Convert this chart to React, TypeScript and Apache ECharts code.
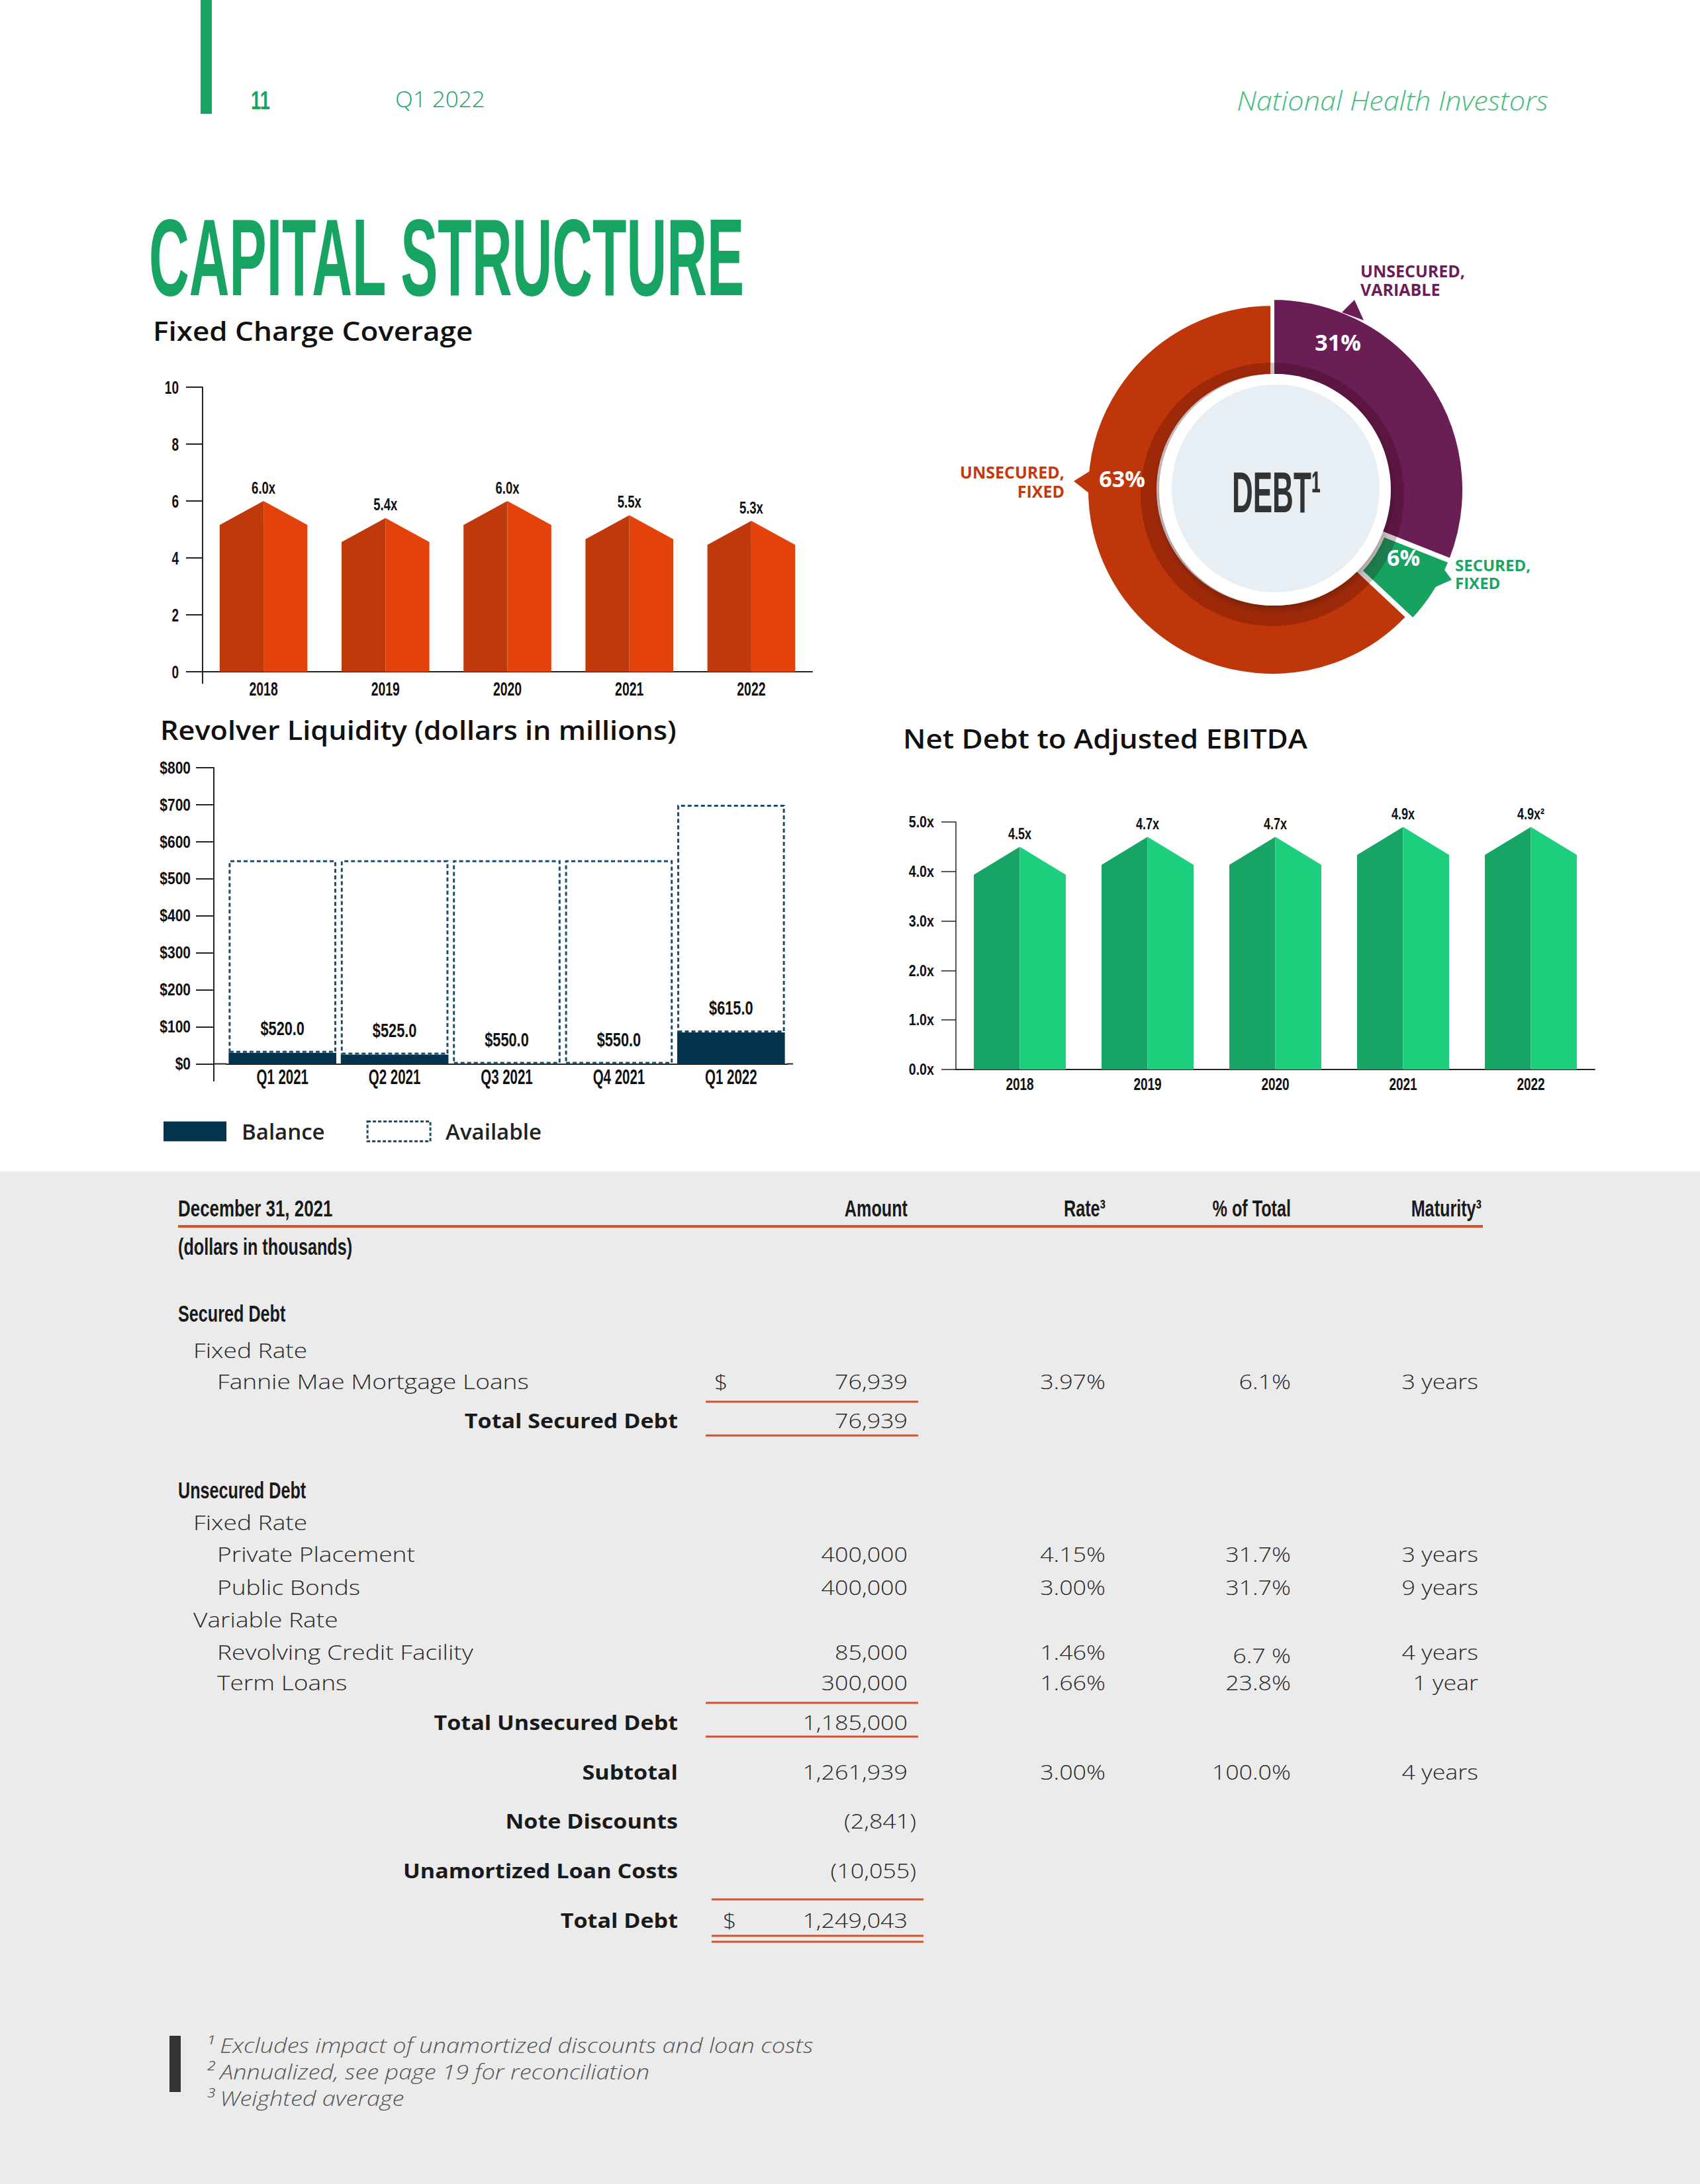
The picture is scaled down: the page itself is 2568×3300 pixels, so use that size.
import React, { useEffect, useRef } from 'react';
import * as echarts from 'echarts';

// ---------- data ----------
const fccYears = ['2018', '2019', '2020', '2021', '2022'];
const fccValues = [6.0, 5.4, 6.0, 5.5, 5.3];
const fccTicks = [0, 2, 4, 6, 8, 10];

const revQuarters = ['Q1 2021', 'Q2 2021', 'Q3 2021', 'Q4 2021', 'Q1 2022'];
const revBalance = [30, 25, 0, 0, 85];
const revAvailable = [520, 525, 550, 550, 615];
const revTicks = [0, 100, 200, 300, 400, 500, 600, 700, 800];

const ebitdaYears = ['2018', '2019', '2020', '2021', '2022'];
const ebitdaValues = [4.5, 4.7, 4.7, 4.9, 4.9];
const ebitdaNotes = ['', '', '', '', '²'];
const ebitdaTicks = [0, 1, 2, 3, 4, 5];

const debtTypes = ['UNSECURED, VARIABLE', 'SECURED, FIXED', 'UNSECURED, FIXED'];
const debtShares = [31, 6, 63];

const debtItems = ['Fannie Mae Mortgage Loans', 'Private Placement', 'Public Bonds', 'Revolving Credit Facility', 'Term Loans'];
const debtAmounts = ['76,939', '400,000', '400,000', '85,000', '300,000'];
const debtRates = ['3.97%', '4.15%', '3.00%', '1.46%', '1.66%'];
const debtPcts = ['6.1%', '31.7%', '31.7%', '6.7 %', '23.8%'];
const debtMaturities = ['3 years', '3 years', '9 years', '4 years', '1 year'];

const summaryLabels = ['Total Secured Debt', 'Total Unsecured Debt', 'Subtotal', 'Note Discounts', 'Unamortized Loan Costs', 'Total Debt'];
const summaryAmounts = ['76,939', '1,185,000', '1,261,939', '(2,841)', '(10,055)', '1,249,043'];
const subtotalRate = '3.00%';
const subtotalPct = '100.0%';
const subtotalMaturity = '4 years';

const footnotes = [
  '¹ Excludes impact of unamortized discounts and loan costs',
  '² Annualized, see page 19 for reconciliation',
  '³ Weighted average',
];

// ---------- styles ----------
const SANS = '"Open Sans", "Noto Sans", Lato, sans-serif';
const LIB = '"Liberation Sans", Arial, sans-serif';
const GREEN = '#17a463';
const ORANGE = '#d4532b';
const PURPLE = '#6a1e55';
const RED = '#bf360a';
const PIEGREEN = '#16a360';

type TO = { s: number; c?: string; f?: string; w?: any; i?: boolean; a?: string; sx?: number; v?: string; lh?: number; z?: number };
const txt = (text: string, x: number, y: number, o: TO) => ({
  type: 'text', x, y, z: o.z ?? 100, scaleX: o.sx ?? 1, silent: true,
  style: {
    text, fill: o.c ?? '#222', fontSize: o.s, fontFamily: o.f ?? SANS, fontWeight: o.w ?? 'normal',
    fontStyle: o.i ? 'italic' : 'normal', align: o.a ?? 'left', verticalAlign: o.v ?? 'middle',
    lineHeight: o.lh,
  },
});
const cond = (text: string, x: number, y: number, s: number, o: Partial<TO> = {}) =>
  txt(text, x, y, { s, f: LIB, w: 'bold', sx: 0.7, c: '#1a1a1a', ...o });
const light = (text: string, x: number, y: number, o: Partial<TO> = {}) =>
  txt(text, x, y, { s: 32, f: SANS, w: 300, sx: 1.12, c: '#262626', ...o });
const hline = (x1: number, x2: number, y: number, w = 3) => ({
  type: 'line', z: 100, silent: true, shape: { x1, y1: y, x2, y2: y }, style: { stroke: ORANGE, lineWidth: w },
});
// condensed chart text element (used inside custom series)
const ctext = (text: string, x: number, y: number, fs: number, sx: number, align = 'center') => ({
  type: 'text', x, y, scaleX: sx,
  style: { text, fontFamily: LIB, fontWeight: 'bold', fontSize: fs, fill: '#111', align, verticalAlign: 'middle' },
});

function arrowRender(dark: string, lightC: string, ratio: number, labelOf: (i: number, v: number) => string, gap: number, fs: number, sx: number) {
  return (params: any, api: any) => {
    const v = api.value(1);
    const top = api.coord([api.value(0), v]);
    const base = api.coord([api.value(0), 0]);
    const hw = (api.size([1, 0])[0] * 0.72) / 2;
    const cx = top[0];
    const sh = top[1] + hw * ratio;
    return {
      type: 'group',
      children: [
        { type: 'polygon', shape: { points: [[cx - hw, base[1]], [cx - hw, sh], [cx, top[1]], [cx, base[1]]] }, style: { fill: dark } },
        { type: 'polygon', shape: { points: [[cx, base[1]], [cx, top[1]], [cx + hw, sh], [cx + hw, base[1]]] }, style: { fill: lightC } },
        ctext(labelOf(params.dataIndex, v), cx, top[1] - gap, fs, sx),
      ],
    };
  };
}

// category labels below the axis, drawn through the axis scale
const xLabels = (idx: number, cats: string[], below: number, fs: number, sx: number) => ({
  type: 'custom', xAxisIndex: idx, yAxisIndex: idx, silent: true, clip: false, z: 6,
  data: cats.map((_, i) => [i, 0]), encode: { x: 0, y: 1 },
  renderItem: (params: any, api: any) => {
    const p = api.coord([api.value(0), 0]);
    return ctext(cats[params.dataIndex], p[0], p[1] + below, fs, sx);
  },
});
// value tick labels left of the axis, drawn through the axis scale
const yLabels = (idx: number, ticks: number[], fmt: (v: number) => string, left: number, fs: number, sx: number) => ({
  type: 'custom', xAxisIndex: idx, yAxisIndex: idx, silent: true, clip: false, z: 6,
  data: ticks.map((t) => [0, t]), encode: { x: 0, y: 1 },
  renderItem: (params: any, api: any) => {
    const p = api.coord([0, api.value(1)]);
    const gridLeft = p[0] - api.size([1, 0])[0] / 2;
    return ctext(fmt(api.value(1)), gridLeft - left, p[1], fs, sx, 'right');
  },
});

const axisLineStyle = { color: '#222', width: 2 };

function buildOption() {
  const g: any[] = [];
  // header
  g.push({ type: 'rect', z: 100, silent: true, shape: { x: 303, y: 0, width: 17, height: 172 }, style: { fill: GREEN } });
  g.push(cond('11', 379, 152, 38, { c: GREEN, sx: 0.72 }));
  g.push(txt('Q1 2022', 597, 149, { s: 33, w: 300, sx: 1.06, c: GREEN }));
  g.push(txt('National Health Investors', 2339, 152, { s: 40, w: 300, sx: 1.08, i: true, c: '#45bd7b', a: 'right' }));
  g.push(txt('CAPITAL STRUCTURE', 225, 389, { s: 165, f: LIB, w: 'bold', sx: 0.51, c: GREEN }));
  // chart titles
  g.push(txt('Fixed Charge Coverage', 231, 499, { s: 40, w: 600, sx: 1.1, c: '#111' }));
  g.push(txt('Revolver Liquidity (dollars in millions)', 242, 1103, { s: 40, w: 600, sx: 1.08, c: '#111' }));
  g.push(txt('Net Debt to Adjusted EBITDA', 1364, 1115, { s: 40, w: 600, sx: 1.1, c: '#111' }));
  // axis extensions
  const ax = (x1: number, y1: number, x2: number, y2: number) => ({ type: 'line', z: 5, silent: true, shape: { x1, y1, x2, y2 }, style: { stroke: '#222', lineWidth: 2 } });
  g.push(ax(306, 1015, 306, 1033));
  g.push(ax(323, 1607.5, 342, 1607.5));
  g.push(ax(1189, 1607.5, 1198, 1607.5));
  g.push(ax(323, 1607.5, 323, 1634));

  // donut decorations
  g.push({ type: 'polygon', z: 4, silent: true, shape: { points: [[2027, 472], [2046, 453], [2060, 484]] }, style: { fill: PURPLE } });
  g.push({ type: 'polygon', z: 4, silent: true, shape: { points: [[1646, 712], [1622, 727], [1646, 746]] }, style: { fill: RED } });
  g.push({ type: 'polygon', z: 4, silent: true, shape: { points: [[2174, 850], [2193, 876], [2166, 888]] }, style: { fill: PIEGREEN } });
  g.push({ type: 'ring', z: 10, silent: true, shape: { cx: 1922, cy: 747, r: 199, r0: 168 }, style: { fill: 'rgba(50,0,10,0.24)' } });
  g.push({ type: 'circle', z: 11, silent: true, shape: { cx: 1926, cy: 740, r: 175 }, style: { fill: '#ffffff', shadowBlur: 12, shadowColor: 'rgba(0,0,0,0.25)', shadowOffsetY: 5 } });
  g.push({ type: 'circle', z: 12, silent: true, shape: { cx: 1927, cy: 738, r: 157 }, style: { fill: '#e7eff5' } });
  g.push(txt('DEBT¹', 1861, 744, { s: 88, f: LIB, w: 'bold', sx: 0.5, c: '#333', z: 13 }));
  g.push(txt(debtShares[0] + '%', 2021, 517, { s: 34, w: 'bold', c: '#fff', a: 'center', z: 13 }));
  g.push(txt(debtShares[2] + '%', 1695, 723, { s: 34, w: 'bold', c: '#fff', a: 'center', z: 13 }));
  g.push(txt(debtShares[1] + '%', 2120, 842, { s: 34, w: 'bold', c: '#fff', a: 'center', z: 13 }));
  g.push(txt(debtTypes[0].replace(' ', '\n'), 2055, 423, { s: 25, w: 'bold', c: PURPLE, lh: 28 }));
  g.push(txt(debtTypes[2].replace(' ', '\n'), 1608, 727, { s: 25, w: 'bold', c: '#c23a0c', a: 'right', lh: 29 }));
  g.push(txt(debtTypes[1].replace(' ', '\n'), 2198, 867, { s: 24, w: 'bold', c: '#1aa563', lh: 27 }));

  // grey table panel
  g.push({ type: 'rect', z: -1, silent: true, shape: { x: 0, y: 1770, width: 2568, height: 1530 }, style: { fill: '#ebebeb' } });

  // table
  const colAmt = 1371, colRate = 1670, colPct = 1950, colMat = 2233, colLbl = 1024;
  g.push(cond('December 31, 2021', 269, 1826, 36, { sx: 0.72 }));
  g.push(cond('Amount', colAmt, 1826, 36, { a: 'right' }));
  g.push(cond('Rate³', colRate, 1826, 36, { a: 'right' }));
  g.push(cond('% of Total', colPct, 1826, 36, { a: 'right' }));
  g.push(cond('Maturity³', 2238, 1826, 36, { a: 'right' }));
  g.push(hline(269, 2240, 1853, 4));
  g.push(cond('(dollars in thousands)', 269, 1884, 36, { sx: 0.7 }));
  g.push(cond('Secured Debt', 269, 1985, 36));
  g.push(light('Fixed Rate', 292, 2040, { sx: 1.16 }));
  g.push(cond('Unsecured Debt', 269, 2252, 36));
  g.push(light('Fixed Rate', 292, 2300, { sx: 1.16 }));
  g.push(light('Variable Rate', 292, 2447, { sx: 1.16 }));

  const itemY = [2087, 2348, 2398, 2496, 2542];
  debtItems.forEach((name, i) => {
    const y = itemY[i];
    g.push(light(name, 328, y, { sx: 1.16 }));
    g.push(light(debtAmounts[i], colAmt, y, { a: 'right' }));
    g.push(light(debtRates[i], colRate, y, { a: 'right' }));
    g.push(light(debtPcts[i], colPct, debtPcts[i].includes(' ') ? y + 5 : y, { a: 'right' }));
    g.push(light(debtMaturities[i], colMat, y, { a: 'right' }));
  });
  g.push(light('$', 1079, 2087));

  const sumY = [2146, 2602, 2677, 2751, 2826, 2901];
  summaryLabels.forEach((name, i) => {
    const y = sumY[i];
    g.push(txt(name, colLbl, y, { s: 31, w: 'bold', sx: 1.1, c: '#1a1a1a', a: 'right' }));
    const amt = summaryAmounts[i];
    g.push(light(amt, amt.startsWith('(') ? colAmt + 13 : colAmt, y, { a: 'right' }));
  });
  g.push(light(subtotalRate, colRate, sumY[2], { a: 'right' }));
  g.push(light(subtotalPct, colPct, sumY[2], { a: 'right' }));
  g.push(light(subtotalMaturity, colMat, sumY[2], { a: 'right' }));
  g.push(light('$', 1092, sumY[5]));

  g.push(hline(1066, 1387, 2118));
  g.push(hline(1066, 1387, 2169));
  g.push(hline(1066, 1387, 2573));
  g.push(hline(1066, 1387, 2624));
  g.push(hline(1075, 1395, 2870));
  g.push(hline(1075, 1395, 2925));
  g.push(hline(1075, 1395, 2934));

  // footnotes
  g.push({ type: 'rect', z: 100, silent: true, shape: { x: 256, y: 3076, width: 17, height: 85 }, style: { fill: '#333' } });
  footnotes.forEach((f, i) => g.push(txt(f, 311, 3090 + i * 40, { s: 32, w: 300, i: true, c: '#555', sx: 1.13 })));

  const yAxisBase = (idx: number, max: number, interval: number, tick: number, offset = 0, w = 2) => ({
    gridIndex: idx, type: 'value', min: 0, max, interval, offset,
    axisLine: { show: true, lineStyle: { color: '#222', width: w } },
    axisTick: { show: true, length: tick, lineStyle: { color: '#222', width: w } },
    splitLine: { show: false },
    axisLabel: { show: false },
  });

  return {
    animation: false,
    backgroundColor: '#ffffff',
    grid: [
      { left: 306, top: 585, width: 921, height: 430, containLabel: false },
      { left: 342, top: 1160, width: 847, height: 447.5, containLabel: false },
      { left: 1444, top: 1242, width: 965, height: 374, containLabel: false },
    ],
    xAxis: [
      {
        gridIndex: 0, type: 'category', data: fccYears,
        axisLine: { lineStyle: axisLineStyle },
        axisTick: { inside: true, length: 11, lineStyle: axisLineStyle },
        axisLabel: { show: false },
      },
      {
        gridIndex: 1, type: 'category', data: revQuarters,
        axisLine: { lineStyle: axisLineStyle },
        axisTick: { length: 27, lineStyle: axisLineStyle },
        axisLabel: { show: false },
      },
      {
        gridIndex: 2, type: 'category', data: ebitdaYears,
        axisLine: { lineStyle: axisLineStyle },
        axisTick: { length: 10, lineStyle: { color: '#222', width: 1.5 } },
        axisLabel: { show: false },
      },
    ],
    yAxis: [
      yAxisBase(0, 10, 2, 25),
      yAxisBase(1, 800, 100, 27, 19),
      yAxisBase(2, 5, 1, 22, 0, 1.5),
    ],
    legend: {
      left: 242, top: 1688, itemWidth: 95, itemHeight: 30, itemGap: 63,
      selectedMode: false, icon: 'rect',
      data: [
        { name: 'Balance' },
        { name: 'Available', itemStyle: { color: '#ffffff', borderColor: '#1d4d68', borderWidth: 3, borderType: [5, 3] } },
      ],
      textStyle: { fontFamily: SANS, fontSize: 33, fontWeight: 600, color: '#222', padding: [0, 0, 0, 18] },
    },
    series: [
      {
        type: 'custom', xAxisIndex: 0, yAxisIndex: 0, silent: true, z: 3,
        data: fccValues.map((v, i) => [i, v]), encode: { x: 0, y: 1 },
        renderItem: arrowRender('#c0390b', '#e3430a', 0.545, (i, v) => v.toFixed(1) + 'x', 20, 25, 0.74),
      },
      xLabels(0, fccYears, 26, 29, 0.67),
      yLabels(0, fccTicks, (v) => String(v), 36, 28, 0.68),
      {
        name: 'Balance', type: 'bar', stack: 'rev', xAxisIndex: 1, yAxisIndex: 1, barWidth: '96%', silent: true,
        data: revBalance, itemStyle: { color: '#04334e' },
      },
      {
        name: 'Available', type: 'bar', stack: 'rev', xAxisIndex: 1, yAxisIndex: 1, barWidth: '96%', silent: true,
        data: revAvailable,
        itemStyle: { color: '#ffffff', borderColor: '#1d4d68', borderWidth: 3, borderType: [6, 4] },
      },
      {
        type: 'custom', xAxisIndex: 1, yAxisIndex: 1, silent: true, clip: false, z: 6,
        data: revAvailable.map((v, i) => [i, revBalance[i], v]), encode: { x: 0, y: 1 },
        renderItem: (params: any, api: any) => {
          const p = api.coord([api.value(0), api.value(1)]);
          return ctext('$' + Number(api.value(2)).toFixed(1), p[0], p[1] - 37, 29, 0.75);
        },
      },
      xLabels(1, revQuarters, 20, 31, 0.66),
      yLabels(1, revTicks, (v) => '$' + v, 54, 25, 0.84),
      {
        type: 'custom', xAxisIndex: 2, yAxisIndex: 2, silent: true, z: 3,
        data: ebitdaValues.map((v, i) => [i, v]), encode: { x: 0, y: 1 },
        renderItem: arrowRender('#17a566', '#1dcf7c', 0.61, (i, v) => v.toFixed(1) + 'x' + ebitdaNotes[i], 20, 24, 0.75),
      },
      xLabels(2, ebitdaYears, 22, 26, 0.73),
      yLabels(2, ebitdaTicks, (v) => v.toFixed(1) + 'x', 33, 24, 0.82),
      {
        type: 'pie', center: [1922, 740], radius: [172, 281], startAngle: 90, clockwise: true, silent: true,
        selectedMode: 'single', selectedOffset: 9, label: { show: false }, labelLine: { show: false },
        itemStyle: { borderColor: '#ffffff', borderWidth: 6 },
        data: debtTypes.map((n, i) => ({
          name: n, value: debtShares[i], selected: i === 1,
          itemStyle: { color: [PURPLE, PIEGREEN, RED][i] },
        })),
      },
      {
        type: 'pie', center: [1922, 740], radius: [172, 290], startAngle: 90, clockwise: true, silent: true,
        label: { show: false }, labelLine: { show: false },
        data: debtTypes.map((n, i) => ({
          name: n + ' outer', value: debtShares[i],
          itemStyle: i === 0 ? { color: PURPLE, borderColor: '#ffffff', borderWidth: 6 } : { color: 'rgba(0,0,0,0)', borderWidth: 0 },
        })),
      },
    ],
    graphic: { elements: g },
  };
}

export default function App() {
  const ref = useRef<HTMLDivElement>(null);
  useEffect(() => {
    document.body.style.margin = '0';
    document.body.style.overflow = 'hidden';
    const chart = echarts.init(ref.current as HTMLDivElement, undefined, { renderer: 'svg', width: 2568, height: 3300 });
    chart.setOption(buildOption() as any);
    return () => chart.dispose();
  }, []);
  return <div ref={ref} style={{ position: 'absolute', left: 0, top: 0, width: 2568, height: 3300 }} />;
}
